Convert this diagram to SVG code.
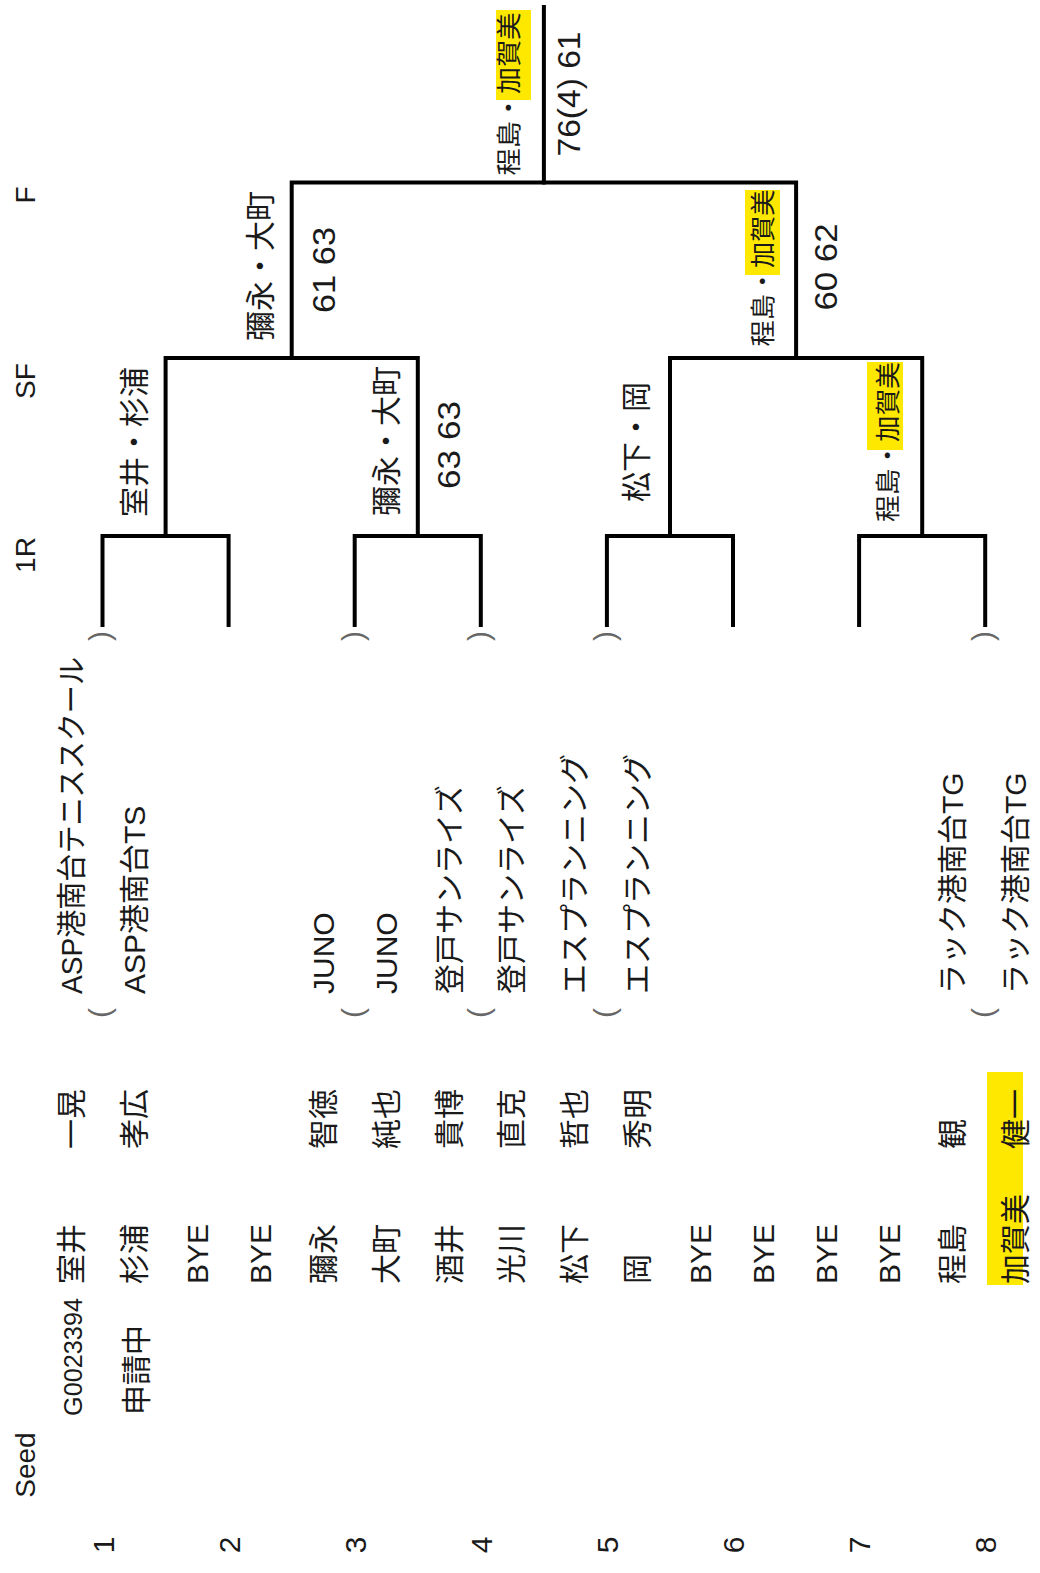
<svg xmlns="http://www.w3.org/2000/svg" width="1040" height="1573" viewBox="0 0 1040 1573">
<style>
.t{font-family:"Liberation Sans","Noto Sans CJK JP",sans-serif;font-size:30px;fill:#1a1a1a}
.s{font-size:25px}
.sc{font-size:32px}
.h{font-size:28px}
.p{fill:#666}
.m{text-anchor:middle}
.hl{fill:#FFE800}
.ln{fill:none;stroke:#000;stroke-width:4;stroke-linecap:square;stroke-linejoin:miter}
</style>
<rect width="1040" height="1573" fill="#fff"/>

<g id="headers">
<text class="t h m" transform="translate(35,195) rotate(-90)">F</text>
<text class="t h m" transform="translate(35,381) rotate(-90)">SF</text>
<text class="t h m" transform="translate(35,555) rotate(-90)">1R</text>
<text class="t h m" transform="translate(35,1465) rotate(-90)">Seed</text>
</g>

<g id="highlights">
<rect class="hl" x="496" y="10" width="35" height="90"/>
<rect class="hl" x="745" y="190" width="35" height="85"/>
<rect class="hl" x="867" y="362" width="36" height="88"/>
<rect class="hl" x="987" y="1072" width="36" height="213"/>
</g>

<g id="connectors">
<path class="ln" d="M102.5 625V536H228.6V625"/>
<path class="ln" d="M354.7 625V536H480.8V625"/>
<path class="ln" d="M606.9 625V536H733V625"/>
<path class="ln" d="M859.1 625V536H985.2V625"/>
<path class="ln" d="M165.6 536V358H417.8V536"/>
<path class="ln" d="M670 536V358H922.2V536"/>
<path class="ln" d="M291.7 358V182.5H796.1V358"/>
<path class="ln" d="M543.9 182.5V7"/>
</g>

<g id="seeds">
<text class="t m" transform="translate(113.5,1545) rotate(-90)">1</text>
<text class="t m" transform="translate(239.6,1545) rotate(-90)">2</text>
<text class="t m" transform="translate(365.7,1545) rotate(-90)">3</text>
<text class="t m" transform="translate(491.8,1545) rotate(-90)">4</text>
<text class="t m" transform="translate(617.9,1545) rotate(-90)">5</text>
<text class="t m" transform="translate(744,1545) rotate(-90)">6</text>
<text class="t m" transform="translate(870.1,1545) rotate(-90)">7</text>
<text class="t m" transform="translate(996.2,1545) rotate(-90)">8</text>
</g>

<g id="entry-1">
<text class="t" transform="translate(82.3,1416) rotate(-90)" style="font-size:26px" textLength="118" lengthAdjust="spacingAndGlyphs">G0023394</text>
<text class="t" transform="translate(82.1,1284) rotate(-90)">室井</text>
<text class="t" transform="translate(82.1,1149) rotate(-90)">一晃</text>
<text class="t" transform="translate(82.1,994) rotate(-90)" textLength="337" lengthAdjust="spacingAndGlyphs">ASP港南台テニススクール</text>
</g>
<g id="entry-2">
<text class="t" transform="translate(147,1415) rotate(-90)">申請中</text>
<text class="t" transform="translate(145,1284) rotate(-90)">杉浦</text>
<text class="t" transform="translate(145,1149) rotate(-90)">孝広</text>
<text class="t" transform="translate(145,994) rotate(-90)">ASP港南台TS</text>
</g>
<g id="entry-3"><text class="t" transform="translate(207.9,1284) rotate(-90)">BYE</text></g>
<g id="entry-4"><text class="t" transform="translate(270.8,1284) rotate(-90)">BYE</text></g>
<g id="entry-5">
<text class="t" transform="translate(333.7,1284) rotate(-90)">彌永</text>
<text class="t" transform="translate(333.7,1149) rotate(-90)">智徳</text>
<text class="t" transform="translate(333.7,994) rotate(-90)">JUNO</text>
</g>
<g id="entry-6">
<text class="t" transform="translate(396.6,1284) rotate(-90)">大町</text>
<text class="t" transform="translate(396.6,1149) rotate(-90)">純也</text>
<text class="t" transform="translate(396.6,994) rotate(-90)">JUNO</text>
</g>
<g id="entry-7">
<text class="t" transform="translate(459.5,1284) rotate(-90)">酒井</text>
<text class="t" transform="translate(459.5,1149) rotate(-90)">貴博</text>
<text class="t" transform="translate(459.5,994) rotate(-90)">登戸サンライズ</text>
</g>
<g id="entry-8">
<text class="t" transform="translate(522.4,1284) rotate(-90)">光川</text>
<text class="t" transform="translate(522.4,1149) rotate(-90)">直克</text>
<text class="t" transform="translate(522.4,994) rotate(-90)">登戸サンライズ</text>
</g>
<g id="entry-9">
<text class="t" transform="translate(585.3,1284) rotate(-90)">松下</text>
<text class="t" transform="translate(585.3,1149) rotate(-90)">哲也</text>
<text class="t" transform="translate(585.3,994) rotate(-90)">エスプランニング</text>
</g>
<g id="entry-10">
<text class="t" transform="translate(648.2,1284) rotate(-90)">岡</text>
<text class="t" transform="translate(648.2,1149) rotate(-90)">秀明</text>
<text class="t" transform="translate(648.2,994) rotate(-90)">エスプランニング</text>
</g>
<g id="entry-11"><text class="t" transform="translate(711.1,1284) rotate(-90)">BYE</text></g>
<g id="entry-12"><text class="t" transform="translate(774,1284) rotate(-90)">BYE</text></g>
<g id="entry-13"><text class="t" transform="translate(836.9,1284) rotate(-90)">BYE</text></g>
<g id="entry-14"><text class="t" transform="translate(899.8,1284) rotate(-90)">BYE</text></g>
<g id="entry-15">
<text class="t" transform="translate(962.7,1284) rotate(-90)">程島</text>
<text class="t" transform="translate(962.7,1149) rotate(-90)">観</text>
<text class="t" transform="translate(962.7,994) rotate(-90)">ラック港南台TG</text>
</g>
<g id="entry-16">
<text class="t" transform="translate(1025.6,1284) rotate(-90)">加賀美</text>
<text class="t" transform="translate(1025.6,1149) rotate(-90)">健一</text>
<text class="t" transform="translate(1025.6,994) rotate(-90)">ラック港南台TG</text>
</g>

<g id="parens">
<text class="t p m" transform="translate(110.3,1013) rotate(-90)">(</text>
<text class="t p m" transform="translate(110.3,636) rotate(-90)">)</text>
<text class="t p m" transform="translate(362.5,1013) rotate(-90)">(</text>
<text class="t p m" transform="translate(362.5,636) rotate(-90)">)</text>
<text class="t p m" transform="translate(488.6,1013) rotate(-90)">(</text>
<text class="t p m" transform="translate(488.6,636) rotate(-90)">)</text>
<text class="t p m" transform="translate(614.7,1013) rotate(-90)">(</text>
<text class="t p m" transform="translate(614.7,636) rotate(-90)">)</text>
<text class="t p m" transform="translate(993,1013) rotate(-90)">(</text>
<text class="t p m" transform="translate(993,636) rotate(-90)">)</text>
</g>

<g id="r1-m1"><text class="t m" transform="translate(145,442) rotate(-90)">室井・杉浦</text></g>
<g id="r1-m2">
<text class="t m" transform="translate(397,441) rotate(-90)">彌永・大町</text>
<text class="t sc m" transform="translate(459.5,445) rotate(-90)" textLength="88" lengthAdjust="spacingAndGlyphs">63 63</text>
</g>
<g id="r1-m3"><text class="t m" transform="translate(647,442) rotate(-90)">松下・岡</text></g>
<g id="r1-m4"><text class="t s m" transform="translate(896.5,442) rotate(-90)" textLength="160" lengthAdjust="spacingAndGlyphs">程島・加賀美</text></g>
<g id="sf-m1">
<text class="t m" transform="translate(271.4,266) rotate(-90)">彌永・大町</text>
<text class="t sc m" transform="translate(334.5,270) rotate(-90)" textLength="86" lengthAdjust="spacingAndGlyphs">61 63</text>
</g>
<g id="sf-m2">
<text class="t s m" transform="translate(771.5,268) rotate(-90)" textLength="157" lengthAdjust="spacingAndGlyphs">程島・加賀美</text>
<text class="t sc m" transform="translate(836.5,267) rotate(-90)" textLength="87" lengthAdjust="spacingAndGlyphs">60 62</text>
</g>
<g id="final">
<text class="t s m" transform="translate(517.5,94) rotate(-90)" textLength="163" lengthAdjust="spacingAndGlyphs">程島・加賀美</text>
<text class="t sc m" transform="translate(579.5,94) rotate(-90)" textLength="125" lengthAdjust="spacingAndGlyphs">76(4) 61</text>
</g>
</svg>
